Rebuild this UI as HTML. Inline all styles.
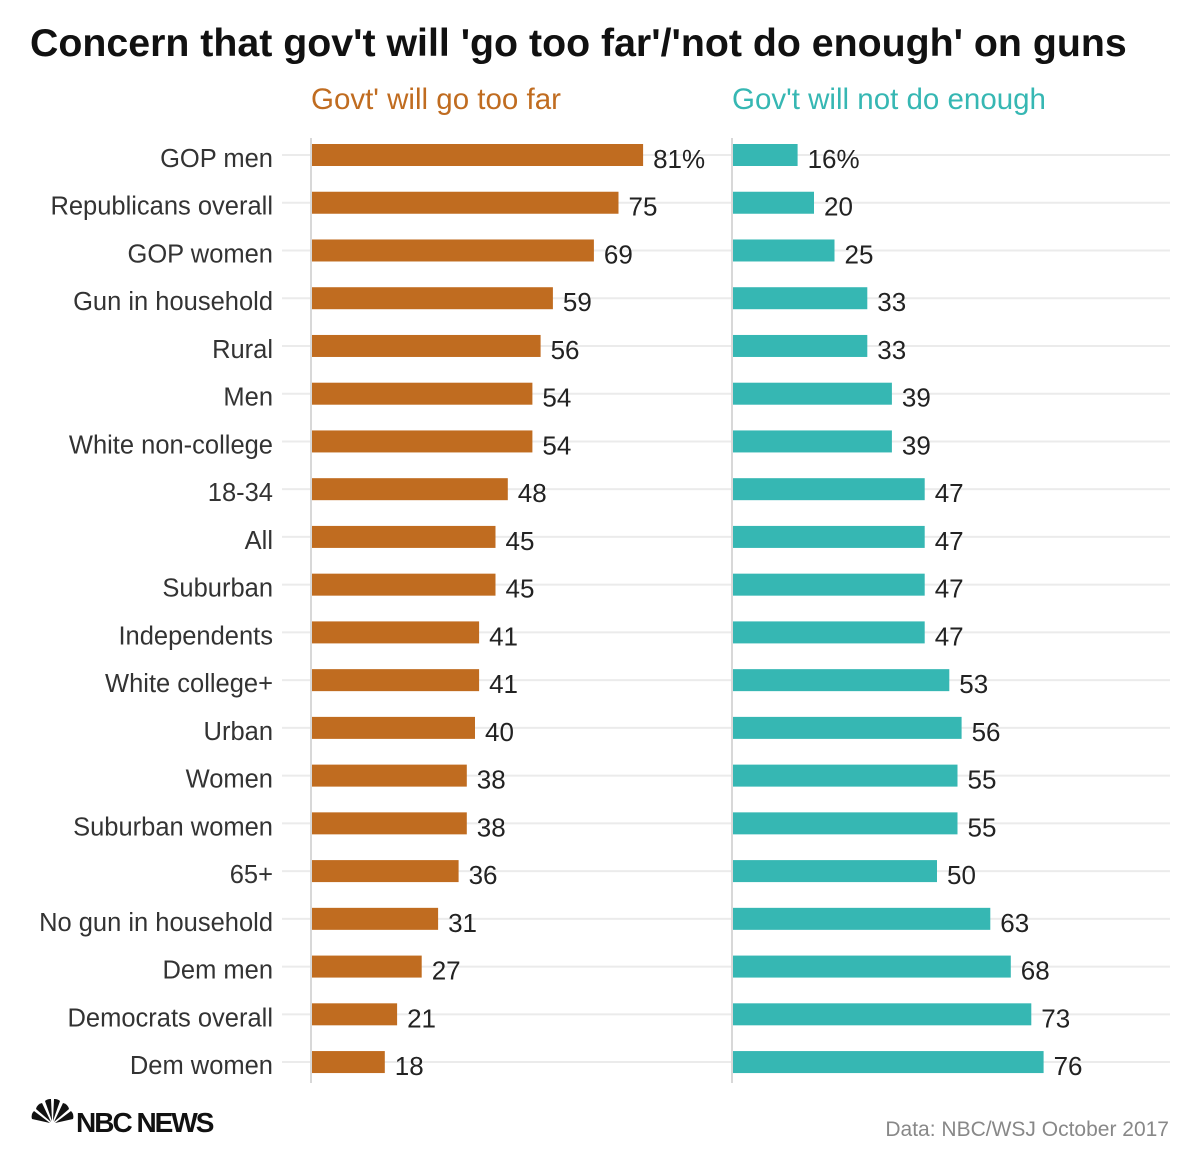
<!DOCTYPE html>
<html><head><meta charset="utf-8"><style>
body{margin:0;background:#fff;}
svg text{font-family:"Liberation Sans",sans-serif;}
</style></head><body>
<svg width="1200" height="1170" viewBox="0 0 1200 1170" xmlns="http://www.w3.org/2000/svg">
<text x="30" y="56" font-size="39.3" font-weight="bold" fill="#111">Concern that gov't will 'go too far'/'not do enough' on guns</text>
<text x="311" y="109" font-size="29.5" fill="#c06c20">Govt' will go too far</text>
<text x="732" y="109" font-size="29.5" fill="#36b7b3">Gov't will not do enough</text>
<g id="grid"></g><g id="bars"></g>
<g>
<g transform="translate(52,1123)" fill="#111">
<path d="M-2,0 L-20,-4 A8,8 0 0 1 -18,-12 Z"/><path d="M-1,-1 L-16,-14 A8,8 0 0 1 -10,-20 Z"/><path d="M0,-2 L-7,-22 A8,8 0 0 1 -1,-24 Z"/><path d="M1,-2 L2,-24 A8,8 0 0 1 8,-22 Z"/><path d="M2,-1 L11,-20 A8,8 0 0 1 17,-14 Z"/><path d="M3,0 L19,-12 A8,8 0 0 1 21,-4 Z"/>
</g>
<text x="76" y="1132" font-size="28" font-weight="bold" fill="#111" letter-spacing="-2">NBC NEWS</text>
</g>
<text x="1169" y="1136" font-size="21" fill="#888" text-anchor="end">Data: NBC/WSJ October 2017</text>
</svg>
<script>
const categories=["GOP men","Republicans overall","GOP women","Gun in household","Rural","Men","White non-college","18-34","All","Suburban","Independents","White college+","Urban","Women","Suburban women","65+","No gun in household","Dem men","Democrats overall","Dem women"];
const tooFar=[81,75,69,59,56,54,54,48,45,45,41,41,40,38,38,36,31,27,21,18];
const notEnough=[16,20,25,33,33,39,39,47,47,47,47,53,56,55,55,50,63,68,73,76];
const NS="http://www.w3.org/2000/svg";
const y0=155,step=47.74,k=4.1,leftX=311,rightX=732;
function yPos(i){return y0+i*step;}
function xL(v){return leftX+v*k;}
function xR(v){return rightX+v*k;}
const grid=document.getElementById('grid'),bars=document.getElementById('bars');
function mk(tag,attrs,parent){const e=document.createElementNS(NS,tag);for(const a in attrs)e.setAttribute(a,attrs[a]);parent.appendChild(e);return e;}
categories.forEach((c,i)=>{
  const y=yPos(i);
  const g=mk('line',{x1:282,x2:1170,y1:y,y2:y,stroke:'#ebebeb','stroke-width':2},grid);
  
  
  const t=mk('text',{x:273,y:y+12,'font-size':25.5,fill:'#333','text-anchor':'end'},bars);
  t.textContent=c;
  
  
  const b1=mk('rect',{x:leftX+1,y:y-11,width:xL(tooFar[i])-leftX-1,height:22,fill:'#c06c20'},bars);
  
  
  const v1=mk('text',{x:xL(tooFar[i])+10,y:y+13,'font-size':26,fill:'#222'},bars);
  v1.textContent=tooFar[i]+(i==0?'%':'');
  
  
  const b2=mk('rect',{x:rightX+1,y:y-11,width:xR(notEnough[i])-rightX-1,height:22,fill:'#36b7b3'},bars);
  
  
  const v2=mk('text',{x:xR(notEnough[i])+10,y:y+13,'font-size':26,fill:'#222'},bars);
  v2.textContent=notEnough[i]+(i==0?'%':'');
  
  
});
[leftX,rightX].forEach(x=>{
  const l=mk('line',{x1:x,x2:x,y1:138,y2:1083,stroke:'#d8d8d8','stroke-width':2},grid);
  
  
});
</script>
</body></html>
